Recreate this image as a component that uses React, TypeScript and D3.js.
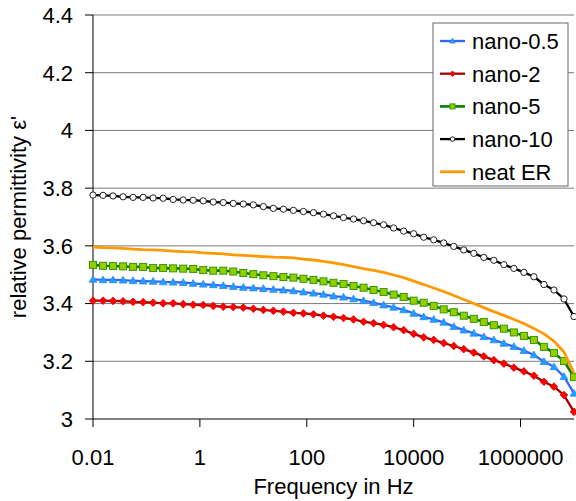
import React from "react";
import * as d3 from "d3";

const frequencies: number[] = [
  0.01, 0.0154, 0.02371, 0.03652, 0.05623, 0.0866, 0.1334, 0.2054, 0.3162, 0.487,
  0.7499, 1.155, 1.778, 2.738, 4.217, 6.494, 10, 15.4, 23.71, 36.52,
  56.23, 86.6, 133.4, 205.4, 316.2, 487, 749.9, 1155, 1778, 2738,
  4217, 6494, 10000, 15400, 23710, 36520, 56230, 86600, 133400, 205400,
  316200, 487000, 749900, 1155000, 1778000, 2738000, 4217000, 6494000, 10000000,
];

const nano05: number[] = [
  3.484, 3.482, 3.482, 3.481, 3.479, 3.478, 3.477, 3.475, 3.474, 3.473,
  3.470, 3.467, 3.465, 3.462, 3.459, 3.456, 3.454, 3.452, 3.449, 3.447,
  3.444, 3.440, 3.436, 3.432, 3.426, 3.422, 3.416, 3.410, 3.403, 3.395,
  3.387, 3.378, 3.366, 3.354, 3.345, 3.335, 3.320, 3.308, 3.297, 3.285,
  3.274, 3.262, 3.251, 3.237, 3.222, 3.199, 3.181, 3.147, 3.089,
];

const nano2: number[] = [
  3.410, 3.410, 3.409, 3.408, 3.406, 3.405, 3.403, 3.401, 3.401, 3.398,
  3.396, 3.395, 3.392, 3.389, 3.388, 3.386, 3.382, 3.378, 3.375, 3.372,
  3.368, 3.366, 3.363, 3.358, 3.354, 3.350, 3.345, 3.337, 3.332, 3.326,
  3.318, 3.308, 3.295, 3.283, 3.274, 3.263, 3.253, 3.242, 3.230, 3.217,
  3.204, 3.192, 3.178, 3.165, 3.150, 3.129, 3.112, 3.083, 3.025,
];

const nano5: number[] = [
  3.534, 3.531, 3.530, 3.529, 3.527, 3.527, 3.523, 3.523, 3.522, 3.521,
  3.520, 3.516, 3.514, 3.514, 3.511, 3.506, 3.502, 3.498, 3.495, 3.492,
  3.490, 3.486, 3.482, 3.477, 3.472, 3.468, 3.461, 3.455, 3.447, 3.440,
  3.431, 3.423, 3.410, 3.403, 3.392, 3.380, 3.370, 3.358, 3.347, 3.336,
  3.325, 3.313, 3.300, 3.288, 3.274, 3.250, 3.229, 3.201, 3.145,
];

const nano10: number[] = [
  3.776, 3.775, 3.773, 3.770, 3.768, 3.768, 3.766, 3.765, 3.761, 3.759,
  3.758, 3.756, 3.752, 3.750, 3.747, 3.745, 3.742, 3.736, 3.730, 3.727,
  3.723, 3.719, 3.715, 3.710, 3.704, 3.698, 3.693, 3.687, 3.680, 3.673,
  3.662, 3.651, 3.642, 3.630, 3.621, 3.610, 3.598, 3.586, 3.574, 3.560,
  3.550, 3.535, 3.522, 3.508, 3.493, 3.466, 3.447, 3.416, 3.355,
];

const neatER: number[] = [
  3.596, 3.594, 3.593, 3.591, 3.589, 3.587, 3.586, 3.584, 3.582, 3.580,
  3.579, 3.576, 3.574, 3.572, 3.569, 3.567, 3.565, 3.563, 3.561, 3.560,
  3.558, 3.554, 3.551, 3.546, 3.541, 3.535, 3.528, 3.521, 3.515, 3.508,
  3.499, 3.490, 3.478, 3.466, 3.454, 3.442, 3.428, 3.414, 3.400, 3.386,
  3.372, 3.359, 3.345, 3.331, 3.314, 3.295, 3.270, 3.232, 3.159,
];

const xTicks: number[] = [0.01, 1, 100, 10000, 1000000];
const xTickLabels: string[] = ["0.01", "1", "100", "10000", "1000000"];
const yTicks: number[] = [3, 3.2, 3.4, 3.6, 3.8, 4, 4.2, 4.4];
const yTickLabels: string[] = ["3", "3.2", "3.4", "3.6", "3.8", "4", "4.2", "4.4"];

type Marker = "triangle" | "diamond" | "square" | "circle" | "none";
interface Series {
  name: string;
  values: number[];
  line: string;
  width: number;
  marker: Marker;
  fill: string;
  stroke: string;
}

const seriesList: Series[] = [
  { name: "nano-0.5", values: nano05, line: "#3366ff", width: 2.3, marker: "triangle", fill: "#1ea0ff", stroke: "#2e86f5" },
  { name: "nano-2", values: nano2, line: "#a00000", width: 2.3, marker: "diamond", fill: "#ff0000", stroke: "#e00000" },
  { name: "nano-5", values: nano5, line: "#008000", width: 2.6, marker: "square", fill: "#99cc00", stroke: "#2f9a00" },
  { name: "nano-10", values: nano10, line: "#000000", width: 2.3, marker: "circle", fill: "#ffffff", stroke: "#222222" },
  { name: "neat ER", values: neatER, line: "#ff9900", width: 2.8, marker: "none", fill: "none", stroke: "none" },
];

const W = 576;
const H = 501;
const left = 93;
const right = 574;
const top = 15;
const bottom = 419;
const FONT = "'Liberation Sans', Arial, sans-serif";
const FS = 22;

function markerShape(m: Marker, cx: number, cy: number, s: number, fill: string, stroke: string, key: string) {
  if (m === "circle") {
    return <circle key={key} cx={cx} cy={cy} r={s * 0.45} fill={fill} stroke={stroke} strokeWidth={1} />;
  }
  if (m === "square") {
    const h = s * 0.5;
    return <rect key={key} x={cx - h} y={cy - h} width={2 * h} height={2 * h} fill={fill} stroke={stroke} strokeWidth={1} />;
  }
  if (m === "triangle") {
    const h = s * 0.55;
    const p = `${cx},${cy - h} ${cx + h},${cy + h * 0.75} ${cx - h},${cy + h * 0.75}`;
    return <polygon key={key} points={p} fill={fill} stroke={stroke} strokeWidth={0.8} />;
  }
  if (m === "diamond") {
    const h = s * 0.55;
    const p = `${cx},${cy - h} ${cx + h},${cy} ${cx},${cy + h} ${cx - h},${cy}`;
    return <polygon key={key} points={p} fill={fill} stroke={stroke} strokeWidth={0.8} />;
  }
  return null;
}

export default function App() {
  const x = d3.scaleLog().domain([0.01, 1e7]).range([left, right]);
  const y = d3.scaleLinear().domain([3, 4.4]).range([bottom, top]);

  const lineGen = d3
    .line<number>()
    .x((_, i) => x(frequencies[i]))
    .y((d) => y(d));

  const legendX = 433;
  const legendY = 23;
  const legendW = 135;
  const legendH = 163;
  const legendRow = 32.7;

  return (
    <svg
      width={W}
      height={H}
      style={{ position: "absolute", left: 0, top: 0, background: "#ffffff" }}
      fontFamily={FONT}
    >
      <rect x={0} y={0} width={W} height={H} fill="#ffffff" />
      {yTicks.map((t, i) =>
        i === 0 ? null : (
          <line key={"g" + i} x1={left} x2={right} y1={y(t)} y2={y(t)} stroke="#7a7a7a" strokeWidth={1} />
        )
      )}
      <line x1={left} x2={left} y1={top} y2={bottom} stroke="#000" strokeWidth={1} />
      <line x1={left} x2={right} y1={bottom} y2={bottom} stroke="#000" strokeWidth={1} />
      {yTicks.map((t, i) => (
        <g key={"yt" + i}>
          <line x1={left - 8} x2={left} y1={y(t)} y2={y(t)} stroke="#000" strokeWidth={1} />
          <text x={73} y={y(t) + 7.8} textAnchor="end" fontSize={FS} fill="#000">
            {yTickLabels[i]}
          </text>
        </g>
      ))}
      {xTicks.map((t, i) => (
        <g key={"xt" + i}>
          <line x1={x(t)} x2={x(t)} y1={bottom} y2={bottom + 8} stroke="#000" strokeWidth={1} />
          <text x={x(t)} y={465} textAnchor="middle" fontSize={FS} fill="#000">
            {xTickLabels[i]}
          </text>
        </g>
      ))}
      <text x={(left + right) / 2} y={494} textAnchor="middle" fontSize={FS} fill="#000">
        Frequency in Hz
      </text>
      <text transform={`translate(26,${(top + bottom) / 2}) rotate(-90)`} textAnchor="middle" fontSize={FS} fill="#000">
        relative permittivity ε'
      </text>

      {seriesList.map((s, si) => (
        <g key={"s" + si}>
          <path d={lineGen(s.values) || ""} fill="none" stroke={s.line} strokeWidth={s.width} strokeLinejoin="round" />
          {s.marker !== "none" &&
            s.values.map((v, i) => markerShape(s.marker, x(frequencies[i]), y(v), 7, s.fill, s.stroke, `m${si}-${i}`))}
        </g>
      ))}

      <rect x={legendX} y={legendY} width={legendW} height={legendH} fill="#ffffff" stroke="#666666" strokeWidth={1} />
      {seriesList.map((s, i) => {
        const cy = legendY + 18 + i * legendRow;
        return (
          <g key={"l" + i}>
            <line x1={440} x2={465} y1={cy} y2={cy} stroke={s.line} strokeWidth={s.width} />
            {s.marker !== "none" && markerShape(s.marker, 452.5, cy, 5, s.fill, s.stroke, "lm" + i)}
            <text x={472} y={cy + 7.8} fontSize={FS} fill="#000">
              {s.name}
            </text>
          </g>
        );
      })}
    </svg>
  );
}
